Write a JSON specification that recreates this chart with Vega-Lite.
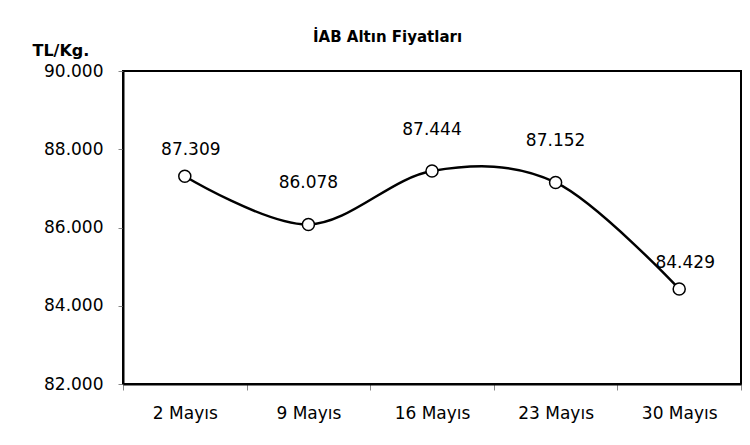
{
  "$schema": "https://vega.github.io/schema/vega-lite/v6.json",
  "autosize": "none",
  "width": 618,
  "height": 313,
  "padding": {"left": 123, "top": 71, "right": 9, "bottom": 61},
  "background": "white",
  "config": {
    "font": "DejaVu Sans",
    "locale": {"number": {"decimal": ",", "thousands": ".", "grouping": [3], "currency": ["", ""]}},
    "view": {"stroke": "black", "strokeWidth": 2}
  },
  "title": {
    "text": "İAB Altın Fiyatları",
    "anchor": "start",
    "dx": 281,
    "dy": 29,
    "offset": 26,
    "fontSize": 15,
    "fontWeight": "bold",
    "color": "black",
    "font": "DejaVu Sans"
  },
  "data": {
    "values": [
      {"tarih": "2 Mayıs", "fiyat": 87309},
      {"tarih": "9 Mayıs", "fiyat": 86078},
      {"tarih": "16 Mayıs", "fiyat": 87444},
      {"tarih": "23 Mayıs", "fiyat": 87152},
      {"tarih": "30 Mayıs", "fiyat": 84429}
    ]
  },
  "encoding": {
    "x": {
      "field": "tarih",
      "type": "nominal",
      "sort": null,
      "scale": {"paddingInner": 0, "paddingOuter": 0},
      "axis": {
        "title": null,
        "labelAngle": 0,
        "labelFontSize": 17,
        "labelColor": "black",
        "labelPadding": 15,
        "tickBand": "extent",
        "tickSize": 6,
        "tickColor": "#888888",
        "domainColor": "black",
        "domainWidth": 2
      }
    },
    "y": {
      "field": "fiyat",
      "type": "quantitative",
      "scale": {"domain": [82000, 90000], "nice": false, "zero": false},
      "axis": {
        "values": [82000, 84000, 86000, 88000, 90000],
        "format": ",d",
        "grid": false,
        "title": "TL/Kg.",
        "titleAngle": 0,
        "titleAlign": "left",
        "titleBaseline": "bottom",
        "titleX": -91,
        "titleY": -13,
        "titleFontSize": 16,
        "titleFontWeight": "bold",
        "titleColor": "black",
        "labelFontSize": 17,
        "labelColor": "black",
        "labelPadding": 15,
        "tickSize": 5,
        "tickColor": "#888888",
        "domainColor": "black",
        "domainWidth": 2
      }
    }
  },
  "layer": [
    {
      "mark": {"type": "line", "interpolate": "cardinal", "color": "black", "strokeWidth": 2.5}
    },
    {
      "mark": {"type": "point", "shape": "circle", "filled": true, "fill": "white", "stroke": "black", "strokeWidth": 1.5, "size": 145, "opacity": 1}
    },
    {
      "transform": [{"filter": "datum.tarih == '2 Mayıs' || datum.tarih == '30 Mayıs'"}],
      "mark": {"type": "text", "dy": -26, "dx": 6, "baseline": "middle", "fontSize": 17, "color": "black"},
      "encoding": {"text": {"field": "fiyat", "type": "quantitative", "format": ",d"}}
    },
    {
      "transform": [{"filter": "datum.tarih != '2 Mayıs' && datum.tarih != '30 Mayıs'"}],
      "mark": {"type": "text", "dy": -41, "baseline": "middle", "fontSize": 17, "color": "black"},
      "encoding": {"text": {"field": "fiyat", "type": "quantitative", "format": ",d"}}
    }
  ]
}
